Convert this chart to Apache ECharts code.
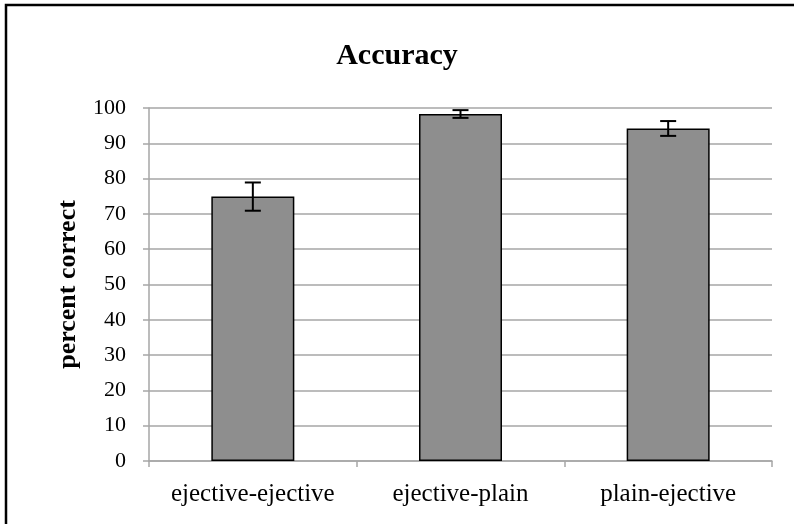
<!DOCTYPE html>
<html>
<head>
<meta charset="utf-8">
<script src="https://cdn.jsdelivr.net/npm/echarts@6/dist/echarts.min.js"></script>
<style>
  html, body { margin: 0; padding: 0; background: #fff; }
  #chart { width: 794px; height: 524px; }
</style>
</head>
<body>
<div id="chart"></div>
<script>
// data
const categories = ["ejective-ejective", "ejective-plain", "plain-ejective"];
const accuracy = [74.9, 98.3, 94.2];
const errors = [4.0, 1.1, 2.1];
const yTicks = [0, 10, 20, 30, 40, 50, 60, 70, 80, 90, 100];

const serif = "'Liberation Serif', 'DejaVu Serif', serif";
const gray = "#a6a6a6";

const chart = echarts.init(document.getElementById("chart"));

const errorData = accuracy.map(function (v, i) {
  return [i, v - errors[i], v + errors[i]];
});

const options = {
  animation: false,
  backgroundColor: "#fff",
  title: {
    text: "Accuracy",
    left: "center",
    top: 36,
    textStyle: { fontFamily: serif, fontSize: 30, fontWeight: "bold", color: "#000" }
  },
  grid: { left: 149, right: 22, top: 108, bottom: 63 },
  graphic: [{
    type: "rect",
    shape: { x: 6, y: 5, width: 810, height: 540 },
    style: { fill: null, stroke: "#000", lineWidth: 2.5 },
    silent: true
  }],
  xAxis: {
    type: "category",
    data: categories,
    axisLine: { lineStyle: { color: gray, width: 1.5 } },
    axisTick: { show: true, interval: 0, length: 6, lineStyle: { color: gray, width: 1.5 } },
    axisLabel: { interval: 0, hideOverlap: false, fontFamily: serif, fontSize: 25, color: "#000", margin: 21 }
  },
  yAxis: {
    type: "value",
    min: 0,
    max: yTicks[yTicks.length - 1],
    interval: 10,
    name: "percent correct",
    nameLocation: "middle",
    nameGap: 68,
    nameTextStyle: { fontFamily: serif, fontSize: 26, fontWeight: "bold", color: "#000" },
    axisLine: { show: true, lineStyle: { color: gray, width: 1.5 } },
    axisTick: { show: true, length: 6, lineStyle: { color: gray, width: 1.5 } },
    axisLabel: { fontFamily: serif, fontSize: 22, color: "#000", margin: 23 },
    splitLine: { show: true, lineStyle: { color: gray, width: 1.5 } }
  },
  series: [
    {
      type: "bar",
      data: accuracy,
      barWidth: 83,
      itemStyle: { color: "#8e8e8e", borderColor: "#000", borderWidth: 1.5 }
    },
    {
      type: "custom",
      data: errorData,
      z: 10,
      renderItem: function (params, api) {
        const x = api.value(0);
        const lo = api.coord([x, api.value(1)]);
        const hi = api.coord([x, api.value(2)]);
        const half = 8;
        const style = { stroke: "#000", lineWidth: 2 };
        return {
          type: "group",
          children: [
            { type: "line", shape: { x1: lo[0], y1: lo[1], x2: hi[0], y2: hi[1] }, style: style },
            { type: "line", shape: { x1: hi[0] - half, y1: hi[1], x2: hi[0] + half, y2: hi[1] }, style: style },
            { type: "line", shape: { x1: lo[0] - half, y1: lo[1], x2: lo[0] + half, y2: lo[1] }, style: style }
          ]
        };
      }
    }
  ]
};
chart.setOption(options);
</script>
</body>
</html>
